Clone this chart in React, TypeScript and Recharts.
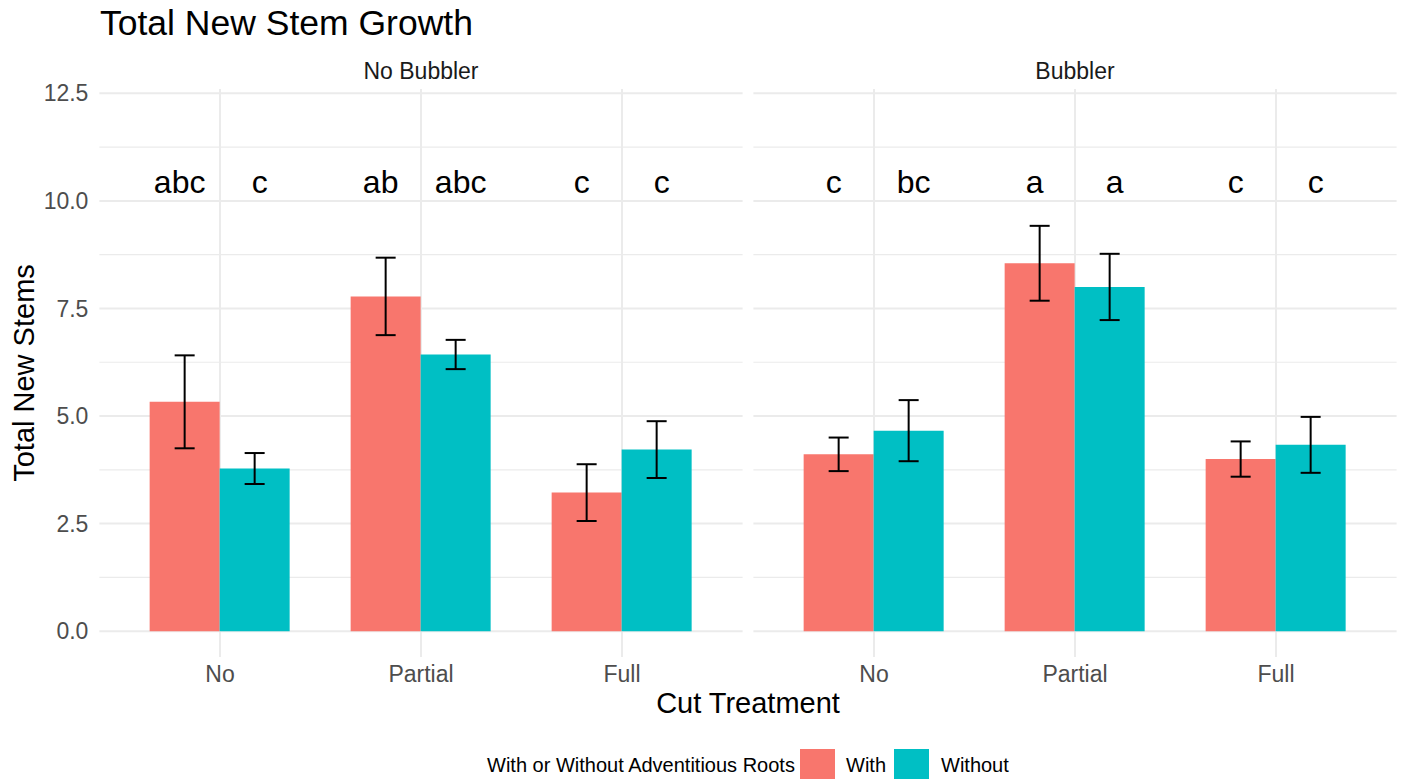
import React from "react";
import { BarChart, Bar, XAxis, YAxis, CartesianGrid, ErrorBar, LabelList, ReferenceLine } from "recharts";

// Cut treatments along the x axis of each facet
const cutTreatments = ["No", "Partial", "Full"];

// Mean total new stems and standard errors, "No Bubbler" facet
const noBubblerWith = [5.33, 7.78, 3.22];
const noBubblerWithSe = [1.08, 0.9, 0.66];
const noBubblerWithout = [3.78, 6.43, 4.22];
const noBubblerWithoutSe = [0.36, 0.34, 0.66];

// Mean total new stems and standard errors, "Bubbler" facet
const bubblerWith = [4.11, 8.55, 4.0];
const bubblerWithSe = [0.39, 0.87, 0.41];
const bubblerWithout = [4.66, 8.0, 4.33];
const bubblerWithoutSe = [0.71, 0.77, 0.65];

// Compact letter display (significance groups)
const noBubblerWithLetters = ["abc", "ab", "c"];
const noBubblerWithoutLetters = ["c", "abc", "c"];
const bubblerWithLetters = ["c", "a", "c"];
const bubblerWithoutLetters = ["bc", "a", "c"];

// Y axis breaks: labelled majors and unlabelled minors
const yTicks = [0, 1.25, 2.5, 3.75, 5, 6.25, 7.5, 8.75, 10, 11.25, 12.5];
const yMajorTicks = [0, 2.5, 5, 7.5, 10, 12.5];
const yDomain: [number, number] = [-0.6, 12.6];
const LETTER_Y = 10.44;

// Dodge widths (in category units) for bars and for the letter labels
const BAR_DODGE = 0.7;
const TEXT_DODGE = 0.8;

const RED = "#F8766D";
const TEAL = "#00BFC4";
const GRID = "#EBEBEB";
const FONT = "'Liberation Sans', Arial, Helvetica, sans-serif";

type Row = {
  cut: string;
  with: number;
  withSe: number;
  without: number;
  withoutSe: number;
  withLetter: string;
  withoutLetter: string;
};

function buildRows(
  w: number[], wSe: number[], wo: number[], woSe: number[], wL: string[], woL: string[]
): Row[] {
  return cutTreatments.map((cut, i) => ({
    cut,
    with: w[i],
    withSe: wSe[i],
    without: wo[i],
    withoutSe: woSe[i],
    withLetter: wL[i],
    withoutLetter: woL[i],
  }));
}

const noBubblerRows = buildRows(
  noBubblerWith, noBubblerWithSe, noBubblerWithout, noBubblerWithoutSe,
  noBubblerWithLetters, noBubblerWithoutLetters
);
const bubblerRows = buildRows(
  bubblerWith, bubblerWithSe, bubblerWithout, bubblerWithoutSe,
  bubblerWithLetters, bubblerWithoutLetters
);

// Grid lines only at the axis breaks; majors thicker than minors.
const horizontalGridLine = (props: any) => {
  const { x1, y1, x2, y2, index } = props;
  const top = Number(props.y);
  const h = Number(props.height);
  let major = index % 2 === 0;
  if (isFinite(top) && isFinite(h) && h > 0) {
    if (Math.abs(y1 - top) < 0.5 || Math.abs(y1 - (top + h)) < 0.5) {
      return <g key={`hgrid-${index}`} />;
    }
    const val = yDomain[1] - ((y1 - top) / h) * (yDomain[1] - yDomain[0]);
    major = Math.abs(val / 2.5 - Math.round(val / 2.5)) < 0.05;
  }
  return (
    <line
      key={`hgrid-${index}`}
      x1={x1}
      y1={y1}
      x2={x2}
      y2={y2}
      stroke={GRID}
      strokeWidth={major ? 2 : 1.2}
    />
  );
};

const XTick = (props: any) => {
  const { x, y, payload } = props;
  return (
    <text x={x} y={y} dy={25} textAnchor="middle" fontSize={23} fill="#4D4D4D" fontFamily={FONT}>
      {payload.value}
    </text>
  );
};

const YTick = (props: any) => {
  const { x, y, payload } = props;
  if (!yMajorTicks.includes(payload.value)) return <g />;
  return (
    <text x={x} y={y} dy="0.35em" textAnchor="end" fontSize={23} fill="#4D4D4D" fontFamily={FONT}>
      {Number(payload.value).toFixed(1)}
    </text>
  );
};

// Letters sit at a fixed data height; the bar's own geometry (zero line and
// pixels per unit) places them on the value scale, dodged a little wider than the bars.
const letterRenderer = (values: number[], side: -1 | 1) => (p: any) => {
  const vb = p.viewBox && p.viewBox.width !== undefined ? p.viewBox : p;
  const x = Number(vb.x);
  const y = Number(vb.y);
  const width = Number(vb.width);
  const height = Number(vb.height);
  const v = values[p.index];
  if (!v || !isFinite(height)) return null;
  const zeroY = y + height;
  const ly = zeroY - (height / v) * LETTER_Y;
  const groupCenter = side < 0 ? x + width : x;
  const unit = width / (BAR_DODGE / 2);
  const lx = groupCenter + side * unit * (TEXT_DODGE / 4);
  return (
    <text
      key={`letter-${p.index}`}
      x={lx}
      y={ly}
      dy="0.35em"
      textAnchor="middle"
      fontSize={32}
      fill="#000"
      fontFamily={FONT}
    >
      {p.value}
    </text>
  );
};

type PanelProps = {
  rows: Row[];
  showY: boolean;
  left: number;
  width: number;
  marginLeft: number;
  marginRight: number;
  yAxisWidth: number;
};

function Panel({ rows, showY, left, width, marginLeft, marginRight, yAxisWidth }: PanelProps) {
  const plotWidth = width - marginLeft - marginRight - (showY ? yAxisWidth : 0);
  // discrete scale expansion of 0.6 units on each side of 3 categories
  const pad = (plotWidth * 0.1) / 3.2;
  const withVals = rows.map((r) => r.with);
  const withoutVals = rows.map((r) => r.without);
  return (
    <div style={{ position: "absolute", left, top: 0 }}>
      <BarChart
        width={width}
        height={700}
        data={rows}
        margin={{ top: 89, right: marginRight, bottom: 0, left: marginLeft }}
        barCategoryGap="15%"
        barGap={0}
      >
        <CartesianGrid horizontal={horizontalGridLine} vertical={false} stroke={GRID} />
        {cutTreatments.map((c) => (
          <ReferenceLine key={`v-${c}`} x={c} stroke={GRID} strokeWidth={2} zIndex={-90} />
        ))}
        <XAxis
          dataKey="cut"
          axisLine={false}
          tickLine={false}
          tickSize={0}
          tickMargin={0}
          tick={XTick}
          height={43}
          interval={0}
          padding={{ left: pad, right: pad }}
        />
        <YAxis
          type="number"
          domain={yDomain}
          ticks={yTicks}
          allowDataOverflow
          hide={!showY}
          width={yAxisWidth}
          axisLine={false}
          tickLine={false}
          tickSize={0}
          tickMargin={11}
          tick={YTick}
          interval={0}
        />
        <Bar dataKey="with" fill={RED} isAnimationActive={false}>
          <ErrorBar dataKey="withSe" width={10} stroke="#000" strokeWidth={2} isAnimationActive={false} />
          <LabelList dataKey="withLetter" content={letterRenderer(withVals, -1)} />
        </Bar>
        <Bar dataKey="without" fill={TEAL} isAnimationActive={false}>
          <ErrorBar dataKey="withoutSe" width={10} stroke="#000" strokeWidth={2} isAnimationActive={false} />
          <LabelList dataKey="withoutLetter" content={letterRenderer(withoutVals, 1)} />
        </Bar>
      </BarChart>
    </div>
  );
}

export default function App() {
  return (
    <div
      style={{
        position: "absolute",
        left: 0,
        top: 0,
        width: 1404,
        height: 779,
        overflow: "hidden",
        background: "#fff",
        fontFamily: FONT,
      }}
    >
      <svg width={1404} height={779} style={{ position: "absolute", left: 0, top: 0 }} fontFamily={FONT}>
        <text x={100} y={35} fontSize={35.5} fill="#000">
          Total New Stem Growth
        </text>
        <text x={421} y={79} textAnchor="middle" fontSize={23} fill="#1A1A1A">
          No Bubbler
        </text>
        <text x={1075} y={79} textAnchor="middle" fontSize={23} fill="#1A1A1A">
          Bubbler
        </text>
        <text x={34} y={373} textAnchor="middle" fontSize={29} fill="#000" transform="rotate(-90 34 373)">
          Total New Stems
        </text>
        <text x={748} y={713} textAnchor="middle" fontSize={29} fill="#000">
          Cut Treatment
        </text>
        <text x={487} y={772} fontSize={20} fill="#000">
          With or Without Adventitious Roots
        </text>
        <rect x={800} y={749} width={35} height={35} fill={RED} />
        <text x={846} y={772} fontSize={20} fill="#000">
          With
        </text>
        <rect x={894} y={749} width={35} height={35} fill={TEAL} />
        <text x={941} y={772} fontSize={20} fill="#000">
          Without
        </text>
      </svg>
      <Panel
        rows={noBubblerRows}
        showY
        left={0}
        width={760}
        marginLeft={0}
        marginRight={17.4}
        yAxisWidth={99.4}
      />
      <Panel
        rows={bubblerRows}
        showY={false}
        left={740}
        width={664}
        marginLeft={13.4}
        marginRight={7.4}
        yAxisWidth={0}
      />
    </div>
  );
}
